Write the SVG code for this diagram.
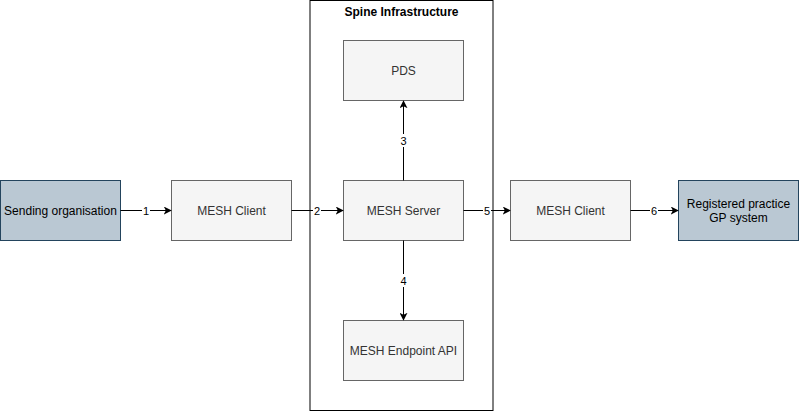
<svg xmlns="http://www.w3.org/2000/svg" width="799" height="411" viewBox="0 0 799 411">
<style>
.g{fill:#f5f5f5;stroke:#666666;stroke-width:1}
.b{fill:#bac8d3;stroke:#23445d;stroke-width:1}
.t{font-family:"Liberation Sans",Arial,sans-serif;font-size:12px;text-anchor:middle;fill:#333333}
.tb{font-family:"Liberation Sans",Arial,sans-serif;font-size:12px;text-anchor:middle;fill:#000000}
.e{stroke:#000;stroke-width:1;fill:none;marker-end:url(#ah)}
.l{font-family:"Liberation Sans",Arial,sans-serif;font-size:11px;text-anchor:middle;fill:#000}
.lb{fill:#fff}
</style>
<defs>
<marker id="ah" viewBox="0 0 10 10" refX="9" refY="5" markerWidth="8" markerHeight="8" markerUnits="userSpaceOnUse" orient="auto">
<path d="M0,0 L10,5 L0,10 L2.5,5 Z" fill="#000"/>
</marker>
</defs>
<g id="spine">
<rect x="310" y="0.5" width="183" height="410" fill="#fff" stroke="#000"/>
<text x="401.5" y="16" font-family="Liberation Sans,Arial,sans-serif" font-size="12" font-weight="bold" text-anchor="middle">Spine Infrastructure</text>
</g>
<g id="sending"><rect class="b" x="0.5" y="180.5" width="120" height="60"/><text class="tb" x="60.5" y="215">Sending organisation</text></g>
<g id="client1"><rect class="g" x="171.5" y="180.5" width="120" height="60"/><text class="t" x="231.5" y="215">MESH Client</text></g>
<g id="server"><rect class="g" x="343.5" y="180.5" width="120" height="60"/><text class="t" x="403.5" y="215">MESH Server</text></g>
<g id="pds"><rect class="g" x="343.5" y="40.5" width="120" height="60"/><text class="t" x="403.5" y="75">PDS</text></g>
<g id="endpoint"><rect class="g" x="343.5" y="320.5" width="120" height="60"/><text class="t" x="403.5" y="355">MESH Endpoint API</text></g>
<g id="client2"><rect class="g" x="510.5" y="180.5" width="120" height="60"/><text class="t" x="570.5" y="215">MESH Client</text></g>
<g id="gp"><rect class="b" x="678.5" y="180.5" width="120" height="60"/><text class="tb" x="738.5" y="208">Registered practice</text><text class="tb" x="738.5" y="222">GP system</text></g>
<g id="connectors">
<path class="e" d="M120.5,210.5 H171"/>
<path class="e" d="M291.5,210.5 H343"/>
<path class="e" d="M403.5,180.5 V101"/>
<path class="e" d="M403.5,240.5 V320"/>
<path class="e" d="M463.5,210.5 H510"/>
<path class="e" d="M630.5,210.5 H678"/>
<rect class="lb" x="142" y="204" width="8" height="13"/><text class="l" x="146" y="214.5">1</text>
<rect class="lb" x="313" y="204" width="8" height="13"/><text class="l" x="317" y="214.5">2</text>
<rect class="lb" x="399.5" y="134" width="8" height="13"/><text class="l" x="403.5" y="144.5">3</text>
<rect class="lb" x="399.5" y="274" width="8" height="13"/><text class="l" x="403.5" y="284.5">4</text>
<rect class="lb" x="483" y="204" width="8" height="13"/><text class="l" x="487" y="214.5">5</text>
<rect class="lb" x="650" y="204" width="8" height="13"/><text class="l" x="654" y="214.5">6</text>
</g>
</svg>
